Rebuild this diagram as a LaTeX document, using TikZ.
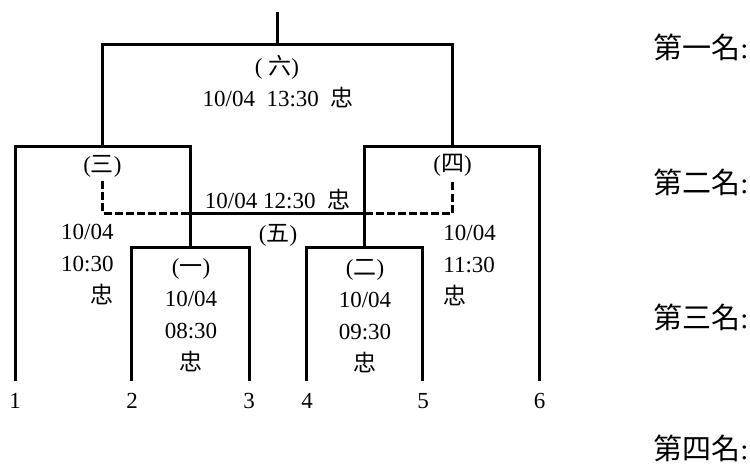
\documentclass[tikz,border=0pt]{standalone}
\usepackage{fontspec}
\setmainfont{Liberation Serif}
\newfontfamily\cjk{Noto Sans CJK TC}
\newcommand{\zh}[1]{{\cjk #1}}
\begin{document}
\begin{tikzpicture}[x=0.5pt,y=-0.5pt,
  bracket/.style={line width=1.5pt},
  thirdline/.style={line width=1.5pt, dash pattern=on 4pt off 1.5pt},
  info/.style={inner sep=0pt, font=\fontsize{11.5}{16}\selectfont},
  rank/.style={inner sep=0pt, anchor=west, font=\fontsize{14.5}{18}\selectfont}]
\useasboundingbox (0,0) rectangle (750,465);
\coordinate (t1) at (15,381);
\coordinate (t2) at (131,381);
\coordinate (t3) at (249,381);
\coordinate (t4) at (306.5,381);
\coordinate (t5) at (422.5,381);
\coordinate (t6) at (539.5,381);
\coordinate (m1) at (190,247);
\coordinate (m2) at (364.5,247);
\coordinate (m3) at (102.5,147);
\coordinate (m4) at (452,147);
\coordinate (m5) at (277,213);
\coordinate (m6) at (277,45);
\coordinate (top) at (277,12);
\coordinate (l3) at (102.5,181);
\coordinate (l4) at (452,181);
\node[info] (s1) at (15,401) {1};
\node[info] (s2) at (132,401) {2};
\node[info] (s3) at (249,401) {3};
\node[info] (s4) at (307,401) {4};
\node[info] (s5) at (423,401) {5};
\node[info] (s6) at (539.5,401) {6};
\draw[bracket] (t2) |- (m1) -| (t3);
\draw[bracket] (t4) |- (m2) -| (t5);
\draw[bracket] (t1) |- (m3) -| (m1);
\draw[bracket] (m2) |- (m4) -| (t6);
\draw[bracket] (m3) |- (m6) -| (m4);
\draw[bracket] (m6) -- (top);
\draw[thirdline] (l3) |- (m5 -| m1);
\draw[bracket] (m5 -| m1) -- (m5 -| m2);
\draw[thirdline] (m5 -| m2) -| (l4);
\node[info] (g6) at (277,67) {(\ \zh{六})};
\node[info] (d6) at (278,98) {10/04\ \ 13:30\ \ \zh{忠}};
\node[info] (g3) at (102.5,166) {(\zh{三})};
\node[info] (g4) at (452.5,165) {(\zh{四})};
\node[info] (d5) at (277.5,200) {10/04 12:30\ \ \zh{忠}};
\node[info] (g5) at (278,235) {(\zh{五})};
\node[info, align=right, anchor=east] (d3) at (114,265) {10/04\\10:30\\\zh{忠}};
\node[info, align=left, anchor=west] (d4) at (443,266) {10/04\\11:30\\\zh{忠}};
\node[info, align=center] (d1) at (191,315) {(\zh{一})\\10/04\\08:30\\\zh{忠}};
\node[info, align=center] (d2) at (365,316) {(\zh{二})\\10/04\\09:30\\\zh{忠}};
\node[rank] (r1) at (653,47) {\zh{第一名}:};
\node[rank] (r2) at (653,182) {\zh{第二名}:};
\node[rank] (r3) at (653,317) {\zh{第三名}:};
\node[rank] (r4) at (653,448) {\zh{第四名}:};
\end{tikzpicture}
\end{document}
